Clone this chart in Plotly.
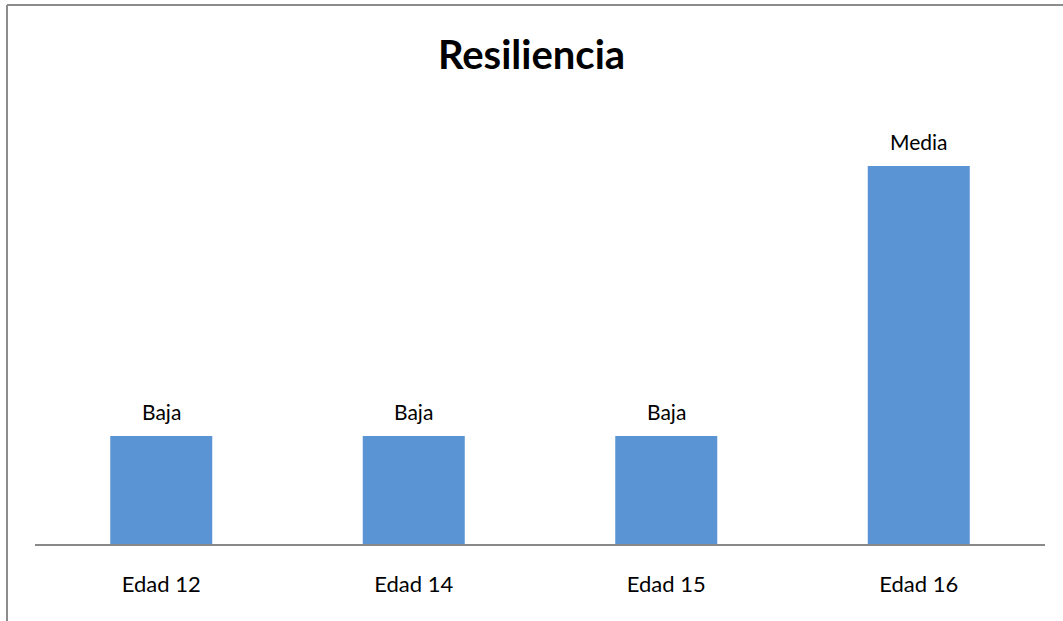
import plotly.graph_objects as go

categories = ["Edad 12", "Edad 14", "Edad 15", "Edad 16"]
values = [1.0, 1.0, 1.0, 3.5]
labels = ["Baja", "Baja", "Baja", "Media"]
title_text = "Resiliencia"

W, H = 1063, 621
L, R, T, B = 35, 18, 100, 77
plot_w = W - L - R
plot_h = H - T - B
ymax = 4.11

fig = go.Figure(go.Bar(
    x=categories, y=values,
    marker=dict(color="#5a94d5", line=dict(width=0)),
    cliponaxis=False,
))

for c, v, t in zip(categories, values, labels):
    fig.add_annotation(x=c, y=v, text=t, showarrow=False,
                       yanchor="middle", yshift=24,
                       font=dict(family="Lato", size=21, color="#000000"))

def px_x(p):
    return (p - L) / plot_w

def px_y(p):
    return (H - B - p) / plot_h

fig.update_layout(
    width=W, height=H, autosize=False,
    margin=dict(l=L, r=R, t=T, b=B),
    paper_bgcolor="white", plot_bgcolor="white",
    bargap=0.596,
    showlegend=False,
    title=dict(text="<b>" + title_text + "</b>", x=0.5, xanchor="center",
               y=1 - 55 / H, yanchor="middle",
               font=dict(family="Lato", size=40, color="#000000")),
    xaxis=dict(showline=True, linecolor="#888888", linewidth=2, showgrid=False,
               ticks="", tickfont=dict(family="Lato", size=22, color="#000000"),
               ticklabelstandoff=20),
    yaxis=dict(range=[0, ymax], visible=False, showgrid=False),
    font=dict(family="Lato"),
    shapes=[
        dict(type="line", xref="paper", yref="paper",
             x0=px_x(7), x1=px_x(1070), y0=px_y(5), y1=px_y(5),
             line=dict(color="#8c8c8c", width=2)),
        dict(type="line", xref="paper", yref="paper",
             x0=px_x(7), x1=px_x(7), y0=px_y(5), y1=px_y(630),
             line=dict(color="#8c8c8c", width=2)),
    ],
)

fig.write_html("out.html")
